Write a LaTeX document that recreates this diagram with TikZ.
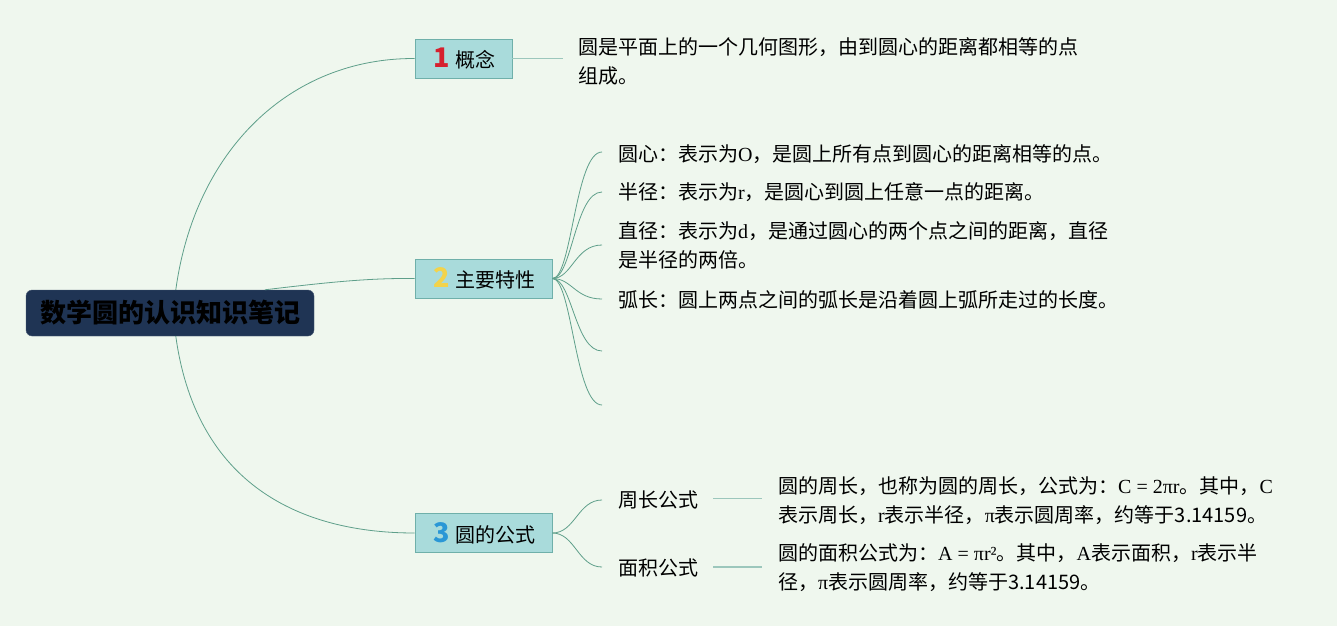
\documentclass[tikz,border=0pt]{standalone}
\usepackage{fontspec}
\setmainfont{Noto Sans CJK SC}
\newfontfamily\serf{Liberation Serif}
\newcommand\lt[1]{{\serf #1}}
\definecolor{bgc}{HTML}{EFF7EE}
\definecolor{linec}{HTML}{5E9F8A}
\definecolor{lightc}{HTML}{9CC7BC}
\definecolor{boxf}{HTML}{A9DBDB}
\definecolor{boxd}{HTML}{6FB0AA}
\definecolor{rootf}{HTML}{1F3454}
\definecolor{nred}{HTML}{D6202E}
\definecolor{nyel}{HTML}{F3D34A}
\definecolor{nblu}{HTML}{2A97D6}
\begin{document}
\begin{tikzpicture}[x=1pt,y=-1pt,
  conn/.style={draw=linec, line width=0.8pt},
  lconn/.style={draw=lightc, line width=1.2pt},
  topic/.style={draw=boxd, fill=boxf, line width=0.8pt, minimum height=39pt, inner sep=0pt, font=\fontsize{20}{24}\selectfont},
  txt/.style={inner sep=0pt, align=left, font=\fontsize{20}{29}\selectfont},
  rootbox/.style={fill=rootf, draw=rootf!80!white, rounded corners=6pt, minimum width=288pt, minimum height=46pt, inner sep=0pt, font=\fontsize{26}{30}\selectfont\bfseries}]
\useasboundingbox (0,0) rectangle (1337,626);
\fill[bgc] (0,0) rectangle (1337,626);

% root
\node[rootbox] (root) at (170,313) {数学圆的认识知识笔记};

% topics
\node[topic, minimum width=97pt] (c1) at (463.5,58.5) {\hspace*{2pt}\textcolor{nred}{\bfseries\fontsize{27}{27}\selectfont 1}\hspace{5pt}概念};
\node[topic, minimum width=137pt] (c2) at (483.5,278.5) {\hspace*{2pt}\textcolor{nyel}{\bfseries\fontsize{27}{27}\selectfont 2}\hspace{5pt}主要特性};
\node[topic, minimum width=137pt] (c3) at (483.5,533) {\hspace*{2pt}\textcolor{nblu}{\bfseries\fontsize{27}{27}\selectfont 3}\hspace{5pt}圆的公式};

% root connectors
\draw[conn] (root.north west) ++(150,0) coordinate (r1)
  (r1) .. controls (195,150) and (290,58) .. (c1.west);
\draw[conn] (root.north west) ++(239,0) coordinate (r2)
  (r2) .. controls (330,282) and (370,278) .. (c2.west);
\draw[conn] (root.south west) ++(150,0) coordinate (r3)
  (r3) .. controls (195,476) and (290,533) .. (c3.west);

% concept
\coordinate (e1) at (563,58.5);
\draw[lconn] (c1.east) -- (e1);
\node[txt, anchor=west] (t1) at (578,61) {圆是平面上的一个几何图形，由到圆心的距离都相等的点\\组成。};

% features
\coordinate (f1) at (602,152);
\coordinate (f2) at (602,192);
\coordinate (f3) at (602,245);
\coordinate (f4) at (602,299);
\coordinate (f5) at (602,351);
\coordinate (f6) at (602,405);
\draw[conn] (c2.east) .. controls (572,278.5) and (575,152) .. (f1);
\draw[conn] (c2.east) .. controls (572,278.5) and (575,192) .. (f2);
\draw[conn] (c2.east) .. controls (572,278.5) and (575,245) .. (f3);
\draw[conn] (c2.east) .. controls (572,278.5) and (575,299) .. (f4);
\draw[conn] (c2.east) .. controls (572,278.5) and (575,351) .. (f5);
\draw[conn] (c2.east) .. controls (572,278.5) and (575,405) .. (f6);
\node[txt, anchor=west] (s1) at (618,154) {圆心：表示为\lt{O}，是圆上所有点到圆心的距离相等的点。};
\node[txt, anchor=west] (s2) at (618,192) {半径：表示为\lt{r}，是圆心到圆上任意一点的距离。};
\node[txt, anchor=west] (s3) at (618,245.5) {直径：表示为\lt{d}，是通过圆心的两个点之间的距离，直径\\是半径的两倍。};
\node[txt, anchor=west] (s4) at (618,300) {弧长：圆上两点之间的弧长是沿着圆上弧所走过的长度。};

% formulas
\coordinate (g1) at (602,500);
\coordinate (g2) at (602,567);
\draw[conn] (c3.east) .. controls (575,533) and (578,500) .. (g1);
\draw[conn] (c3.east) .. controls (575,533) and (578,567) .. (g2);
\node[txt, anchor=west] (p1) at (618,500) {周长公式};
\node[txt, anchor=west] (p2) at (618,568) {面积公式};
\coordinate (h1) at (762,498.5);
\coordinate (h2) at (762,567);
\draw[lconn] (p1.east) ++(15,-1.5) coordinate (k1) (k1) -- (h1);
\draw[lconn] (p2.east) ++(15,-1) coordinate (k2) (k2) -- (h2);
\node[txt, anchor=west] (q1) at (778,501) {圆的周长，也称为圆的周长，公式为：\lt{C = 2πr}。其中，\lt{C}\\表示周长，\lt{r}表示半径，\lt{π}表示圆周率，约等于3.14159。};
\node[txt, anchor=west] (q2) at (778,568) {圆的面积公式为：\lt{A = πr²}。其中，\lt{A}表示面积，\lt{r}表示半\\径，\lt{π}表示圆周率，约等于3.14159。};
\end{tikzpicture}
\end{document}
